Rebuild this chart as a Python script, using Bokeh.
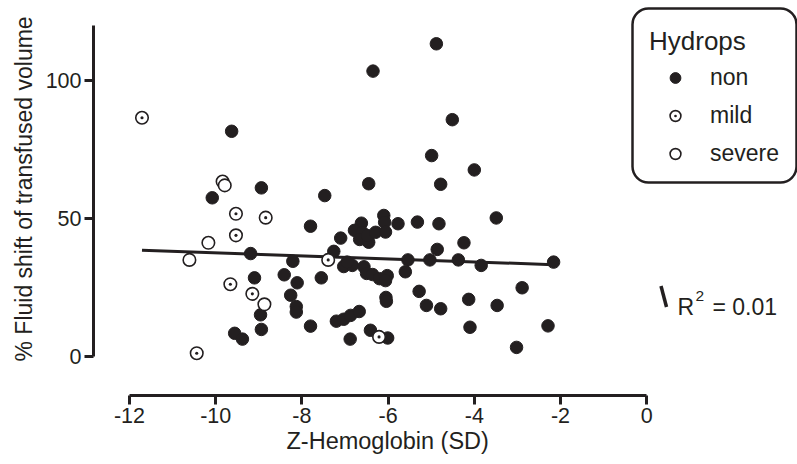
import numpy as np
from bokeh.plotting import figure
from bokeh.models import (Range1d, FixedTicker, Label, BoxAnnotation, Legend, LegendItem, Title)
from bokeh.embed import file_html
from bokeh.resources import INLINE

# ---------------- data ----------------
non_x = [-6.35, -4.88, -4.51, -9.63, -4.99, -4.00, -4.78, -6.45, -8.94, -10.08,
         -7.47, -7.80, -7.10, -7.26, -9.19, -8.21, -9.10, -8.41, -8.11, -8.26,
         -8.13, -8.13, -8.96, -8.94, -9.56, -9.38, -7.55, -7.80, -6.88, -6.41,
         -6.01, -6.62, -6.78, -6.60, -6.66, -6.45, -6.48, -6.29, -6.10, -6.08,
         -6.06, -5.77, -5.32, -4.82, -4.86, -7.03, -6.83, -6.95, -6.56, -6.50,
         -6.36, -6.20, -6.02, -6.06, -5.54, -5.03, -5.60, -6.05, -6.04, -5.28,
         -5.11, -4.78, -7.20, -7.03, -6.87, -6.67, -3.49, -4.24, -4.37, -3.84,
         -2.16, -2.89, -4.13, -3.47, -4.10, -2.29, -3.02]
non_y = [103.4, 113.3, 85.8, 81.6, 72.8, 67.6, 62.4, 62.6, 61.1, 57.5,
         58.3, 47.2, 42.9, 38.1, 37.3, 34.5, 28.5, 29.6, 26.7, 22.2,
         18.1, 16.1, 15.1, 9.8, 8.4, 6.3, 28.5, 11.0, 6.3, 9.5,
         6.7, 48.3, 45.7, 45.0, 42.4, 41.4, 43.8, 45.0, 51.1, 48.6,
         45.1, 48.1, 48.7, 48.1, 38.8, 32.6, 33.0, 34.2, 32.5, 30.1,
         29.7, 28.2, 29.3, 27.5, 35.0, 35.0, 30.7, 21.4, 20.0, 23.6,
         18.5, 17.3, 12.8, 13.5, 14.9, 16.3, 50.2, 41.2, 35.0, 33.0,
         34.2, 24.9, 20.7, 18.5, 10.6, 11.1, 3.3]
mild_x = [-11.71, -9.53, -8.84, -9.53, -9.66, -9.15, -10.44, -7.39, -6.21]
mild_y = [86.5, 51.7, 50.3, 43.9, 26.2, 22.7, 1.2, 35.0, 7.1]
severe_x = [-9.84, -9.79, -10.17, -10.61, -8.87]
severe_y = [63.4, 62.0, 41.2, 35.0, 18.9]

fit_slope = -0.545
fit_intercept = 32.1
r2_parts = ["R", "2", "= 0.01"]

x_ticks = [-12, -10, -8, -6, -4, -2, 0]
y_ticks = [0, 50, 100]
x_label = "Z-Hemoglobin (SD)"
y_label = "% Fluid shift of transfused volume"
legend_title = "Hydrops"
legend_labels = ["non", "mild", "severe"]

# ---------------- layout / style ----------------
FONT = "Liberation Sans"
INK = "#231f20"
W, H = 797, 464
LEFT_PX, BOTTOM_PX = 93, 395
X_AT_M12, PX_PER_X = 129.0, 43.1
Y_AT_0, PX_PER_Y = 356.0, 2.76


def px_to_x(px):
    return -12 + (px - X_AT_M12) / PX_PER_X


def px_to_y(py):
    return (Y_AT_0 - py) / PX_PER_Y


p = figure(width=W, height=H, output_backend="svg", toolbar_location=None,
           x_range=Range1d(px_to_x(LEFT_PX), px_to_x(W)),
           y_range=Range1d(px_to_y(BOTTOM_PX), px_to_y(0)),
           min_border_left=LEFT_PX, min_border_right=0, min_border_top=0,
           min_border_bottom=H - BOTTOM_PX)
p.outline_line_color = None
p.grid.grid_line_color = None
p.background_fill_color = "white"
p.border_fill_color = "white"

for ax in (p.xaxis[0], p.yaxis[0]):
    ax.axis_line_width = 3
    ax.axis_line_color = INK
    ax.major_tick_line_width = 3
    ax.major_tick_line_color = INK
    ax.major_tick_out = 9
    ax.major_tick_in = 0
    ax.minor_tick_line_color = None
    ax.major_label_text_font = FONT
    ax.major_label_text_font_size = "21.5px"
    ax.major_label_text_color = INK
    ax.major_label_standoff = 3
p.xaxis.bounds = (-12, 0)
p.yaxis.bounds = (0, 120)
p.xaxis.ticker = FixedTicker(ticks=x_ticks)
p.yaxis.ticker = FixedTicker(ticks=y_ticks)
p.xaxis.major_label_overrides = {t: str(t) for t in x_ticks}
p.yaxis.major_label_overrides = {t: str(t) for t in y_ticks}

# axis titles (side-panel titles, left-aligned with a pixel offset)
p.add_layout(Title(text=x_label, align="left", offset=286 - LEFT_PX,
                   text_font=FONT, text_font_size="23.5px", text_font_style="normal",
                   text_color=INK, standoff=0), "below")
p.add_layout(Title(text=y_label, align="left", offset=BOTTOM_PX - 361,
                   text_font=FONT, text_font_size="23px", text_font_style="normal",
                   text_color=INK, standoff=12), "left")

# regression line
all_x = np.array(non_x + mild_x + severe_x)
fx = np.array([all_x.min(), all_x.max()])
p.line(fx, fit_intercept + fit_slope * fx, line_color=INK, line_width=3)

r_non = p.scatter(non_x, non_y, marker="circle", size=12.5,
                  fill_color=INK, line_color=INK, line_width=1)
r_mild = p.scatter(mild_x, mild_y, marker="circle_dot", size=12.5,
                   fill_color="white", line_color=INK, line_width=1.6)
r_sev = p.scatter(severe_x, severe_y, marker="circle", size=12.5,
                  fill_color="white", line_color=INK, line_width=1.6)

# legend frame
box = BoxAnnotation(left=px_to_x(632), right=px_to_x(796), top=px_to_y(8), bottom=px_to_y(182),
                    fill_color=None, fill_alpha=0, line_color=INK, line_alpha=1,
                    line_width=2.5, border_radius=16)
p.add_layout(box)

legend = Legend(items=[LegendItem(label=legend_labels[0], renderers=[r_non]),
                       LegendItem(label=legend_labels[1], renderers=[r_mild]),
                       LegendItem(label=legend_labels[2], renderers=[r_sev])],
                title=legend_title, location=(649 - LEFT_PX, BOTTOM_PX - 167),
                title_text_font=FONT, title_text_font_size="26px", title_text_color=INK,
                title_text_font_style="normal", title_standoff=7,
                label_text_font=FONT, label_text_font_size="23px", label_text_color=INK,
                glyph_width=52, glyph_height=27, label_height=27, label_standoff=9,
                spacing=11, padding=0, margin=0,
                border_line_color=None, background_fill_alpha=0)
p.add_layout(legend)

# R^2 annotation with its line symbol
p.segment(x0=[px_to_x(660.5)], y0=[px_to_y(285.5)], x1=[px_to_x(666)], y1=[px_to_y(306.5)],
          line_color=INK, line_width=3.5)
p.add_layout(Label(x=px_to_x(677), y=px_to_y(306), text=r2_parts[0], text_align="left",
                   text_baseline="alphabetic", text_font=FONT, text_font_size="23px",
                   text_color=INK))
p.add_layout(Label(x=px_to_x(695), y=px_to_y(295), text=r2_parts[1], text_align="left",
                   text_baseline="alphabetic", text_font=FONT, text_font_size="15.5px",
                   text_color=INK))
p.add_layout(Label(x=px_to_x(712), y=px_to_y(306), text=r2_parts[2], text_align="left",
                   text_baseline="alphabetic", text_font=FONT, text_font_size="23px",
                   text_color=INK))

open("out.html", "w").write(file_html(p, INLINE))
